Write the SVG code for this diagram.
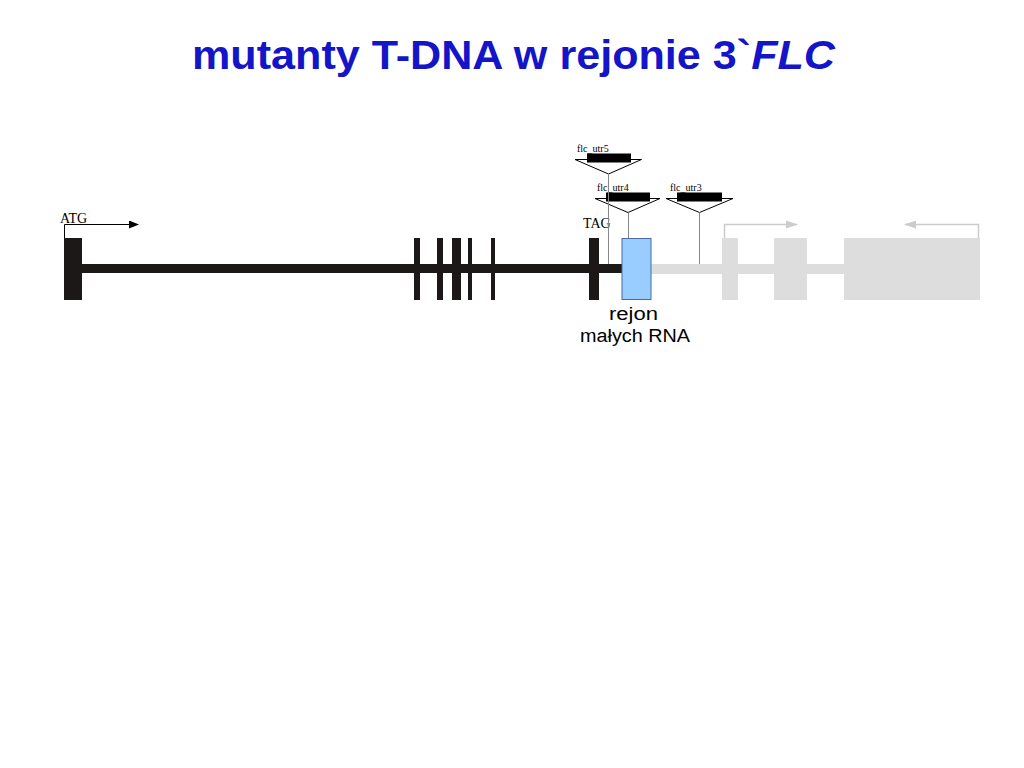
<svg xmlns="http://www.w3.org/2000/svg" width="1024" height="768" viewBox="0 0 1024 768">
<defs>
<style>
.title{font-family:"Liberation Sans","DejaVu Sans",sans-serif;font-weight:bold;font-size:40px;fill:#1414C8}
.lbl{font-family:"Liberation Serif","DejaVu Serif",serif;fill:#000}
.small{font-size:10px}
.mid{font-size:14px}
.note{font-family:"Liberation Sans","DejaVu Sans",sans-serif;font-size:18px;fill:#000}
.blk{fill:#1c1818}
.gry{fill:#dddddd}
.tri{fill:#fff;stroke:#000;stroke-width:1}
.bar{fill:#000}
.stem{stroke:#888;stroke-width:1;fill:none}
</style>
<marker id="ah" markerWidth="10" markerHeight="8" refX="9" refY="4" orient="auto" markerUnits="userSpaceOnUse">
<path d="M0,0 L10,4 L0,8 z" fill="#000"/>
</marker>
<marker id="ahg" markerWidth="12" markerHeight="8" refX="11" refY="4" orient="auto" markerUnits="userSpaceOnUse">
<path d="M0,0 L12,4 L0,8 z" fill="#cccccc"/>
</marker>
</defs>
<rect width="1024" height="768" fill="#fff"/>
<text class="title" x="192" y="69" textLength="643" lengthAdjust="spacingAndGlyphs">mutanty T-DNA w rejonie 3`<tspan font-style="italic">FLC</tspan></text>

<g id="gene-body">
<rect class="blk" x="64" y="264" width="558" height="9"/>
<rect class="gry" x="651" y="264" width="329" height="10"/>
</g>
<g id="exons">
<rect class="blk" x="64" y="238" width="18" height="62"/>
<rect class="blk" x="414" y="238" width="6" height="62"/>
<rect class="blk" x="437" y="238" width="6" height="62"/>
<rect class="blk" x="452" y="238" width="9" height="62"/>
<rect class="blk" x="468" y="238" width="4" height="62"/>
<rect class="blk" x="491" y="238" width="4" height="62"/>
<rect class="blk" x="589" y="238" width="10" height="62"/>
<rect class="gry" x="722" y="238" width="16" height="62"/>
<rect class="gry" x="774" y="238" width="33" height="62"/>
<rect class="gry" x="844" y="238" width="136" height="62"/>
</g>
<g id="small-rna-region">
<rect x="622" y="238.5" width="29" height="61" fill="#99ccff" stroke="#4a6aa0" stroke-width="1"/>
<text class="note" x="609" y="320" textLength="49" lengthAdjust="spacingAndGlyphs">rejon</text>
<text class="note" x="580" y="342" textLength="110" lengthAdjust="spacingAndGlyphs">małych RNA</text>
</g>
<g id="atg">
<text class="lbl mid" x="60" y="223" font-size="13">ATG</text>
</g>
<g id="tag">
<text class="lbl mid" x="583" y="228">TAG</text>
</g>
<g id="flc_utr5">
<polygon class="tri" points="575,159.5 641.5,159.5 608.5,174"/>
<rect class="bar" x="587" y="153.5" width="44" height="9"/>
<text class="lbl small" x="577" y="152">flc_utr5</text>
</g>
<g id="flc_utr4">
<polygon class="tri" points="595,198.5 660,198.5 628,212.5"/>
<rect class="bar" x="606" y="192.5" width="44" height="9"/>
<text class="lbl small" x="597" y="191">flc_utr4</text>
</g>
<g id="flc_utr3">
<polygon class="tri" points="666,198.5 733,198.5 699.5,212.5"/>
<rect class="bar" x="677" y="192.5" width="45" height="9"/>
<text class="lbl small" x="670" y="191">flc_utr3</text>
</g>
<g id="connectors">
<polyline points="64.5,238 64.5,224.5 138,224.5" fill="none" stroke="#000" stroke-width="1" marker-end="url(#ah)"/>
<polyline points="724.5,238 724.5,224.5 797,224.5" fill="none" stroke="#cccccc" stroke-width="1.5" marker-end="url(#ahg)"/>
<polyline points="978.5,238 978.5,224.5 905,224.5" fill="none" stroke="#cccccc" stroke-width="1.5" marker-end="url(#ahg)"/>
<line class="stem" x1="608.5" y1="174" x2="608.5" y2="264"/>
<line class="stem" x1="628.5" y1="212.5" x2="628.5" y2="238"/>
<line class="stem" x1="699.5" y1="212.5" x2="699.5" y2="264"/>
</g>
</svg>
